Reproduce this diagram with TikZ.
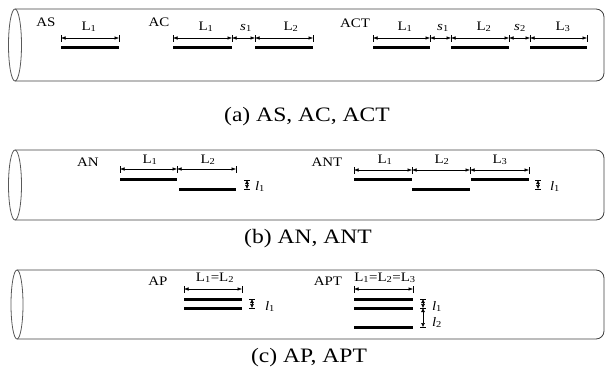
\documentclass[tikz,border=0pt]{standalone}
\usepackage{fontspec}
\setmainfont{Liberation Serif}[FakeStretch=1.15]
\usetikzlibrary{arrows.meta}
\tikzset{
  tube/.style={draw=black!75, line width=0.8pt, rounded corners=8pt},
  rim/.style={draw=black!65, line width=0.8pt},
  bar/.style={line width=3pt},
  dim/.style={line width=0.5pt, {Latex[length=4.5pt,width=3.5pt]}-{Latex[length=4.5pt,width=3.5pt]}},
  vdim/.style={line width=0.5pt, {Latex[length=4pt,width=4pt]}-{Latex[length=4pt,width=4pt]}},
  tickl/.style={line width=0.6pt},
  lbl/.style={font=\fontsize{13}{15}\selectfont, inner sep=0pt, anchor=base},
  captxt/.style={font=\fontsize{20.5}{24}\selectfont, inner sep=0pt, anchor=base}
}
\begin{document}
\begin{tikzpicture}[x=1pt,y=-1pt]
\useasboundingbox (0,0) rectangle (605,367);
% ---------- panel (a)
\draw[tube] (15,9) -- (604,9) -- (604,81) -- (15,81);
\draw[rim] (15,45) ellipse [x radius=6.5pt, y radius=36pt];
\node[lbl] (AS) at (46,26) {AS};
\node[lbl] (AC) at (159,26) {AC};
\node[lbl] (ACT) at (355,27) {ACT};
% AS
\coordinate (a1) at (61,38); \coordinate (a2) at (119,38);
\draw[dim] (a1) -- (a2);
\node[lbl] (asL1) at (89,30) {L\textsubscript{1}};
\draw[bar] (61,47) -- (119,47);
% AC
\coordinate (b1) at (173,38); \coordinate (b2) at (232,38);
\coordinate (b3) at (255,38); \coordinate (b4) at (313,38);
\draw[dim] (b1) -- (b2); \draw[dim] (b2) -- (b3); \draw[dim] (b3) -- (b4);
\node[lbl] (acL1) at (206,30) {L\textsubscript{1}};
\node[lbl] (acS1) at (246,30) {\textit{s}\textsubscript{1}};
\node[lbl] (acL2) at (291,30) {L\textsubscript{2}};
\draw[bar] (173,47) -- (232,47);
\draw[bar] (255,47) -- (313,47);
% ACT
\coordinate (c1) at (373,38); \coordinate (c2) at (430,38);
\coordinate (c3) at (451,38); \coordinate (c4) at (509,38);
\coordinate (c5) at (530,38); \coordinate (c6) at (587,38);
\draw[dim] (c1) -- (c2); \draw[dim] (c2) -- (c3); \draw[dim] (c3) -- (c4);
\draw[dim] (c4) -- (c5); \draw[dim] (c5) -- (c6);
\node[lbl] (actL1) at (405,30) {L\textsubscript{1}};
\node[lbl] (actS1) at (443,30) {\textit{s}\textsubscript{1}};
\node[lbl] (actL2) at (484,30) {L\textsubscript{2}};
\node[lbl] (actS2) at (520,30) {\textit{s}\textsubscript{2}};
\node[lbl] (actL3) at (563,30) {L\textsubscript{3}};
\draw[bar] (373,47) -- (430,47);
\draw[bar] (451,47) -- (509,47);
\draw[bar] (530,47) -- (587,47);
\foreach \c in {a1,a2,b1,b2,b3,b4,c1,c2,c3,c4,c5,c6}
  \draw[tickl] ([yshift=-3.5pt]\c) -- ([yshift=3.5pt]\c);
\node[captxt] (capA) at (307,121) {(a) AS, AC, ACT};
% ---------- panel (b)
\draw[tube] (15,150) -- (604,150) -- (604,220) -- (15,220);
\draw[rim] (15,185) ellipse [x radius=6.5pt, y radius=35pt];
\node[lbl] (AN) at (88,166) {AN};
\node[lbl] (ANT) at (327,166) {ANT};
% AN
\coordinate (d1) at (120,169); \coordinate (d2) at (177,169); \coordinate (d3) at (236,169);
\draw[dim] (d1) -- (d2); \draw[dim] (d2) -- (d3);
\node[lbl] (anL1) at (150,163) {L\textsubscript{1}};
\node[lbl] (anL2) at (208,163) {L\textsubscript{2}};
\draw[bar] (120,179) -- (177,179);
\draw[bar] (179,189) -- (236,189);
\coordinate (dv1) at (247,180); \coordinate (dv2) at (247,189);
\draw[vdim] (dv1) -- (dv2);
\node[lbl] (anl1) at (260,190) {\textit{l}\textsubscript{1}};
% ANT
\coordinate (e1) at (354,170); \coordinate (e2) at (412,170);
\coordinate (e3) at (470,170); \coordinate (e4) at (529,170);
\draw[dim] (e1) -- (e2); \draw[dim] (e2) -- (e3); \draw[dim] (e3) -- (e4);
\node[lbl] (antL1) at (385,163) {L\textsubscript{1}};
\node[lbl] (antL2) at (442,163) {L\textsubscript{2}};
\node[lbl] (antL3) at (500,163) {L\textsubscript{3}};
\draw[bar] (354,179) -- (412,179);
\draw[bar] (412,189) -- (470,189);
\draw[bar] (471,179) -- (529,179);
\coordinate (ev1) at (538,180); \coordinate (ev2) at (538,189);
\draw[vdim] (ev1) -- (ev2);
\node[lbl] (antl1) at (555,190) {\textit{l}\textsubscript{1}};
\foreach \c in {d1,d2,d3,e1,e2,e3,e4}
  \draw[tickl] ([yshift=-3.5pt]\c) -- ([yshift=3.5pt]\c);
\foreach \c in {dv1,dv2,ev1,ev2}
  \draw[tickl] ([xshift=-3pt]\c) -- ([xshift=3pt]\c);
\node[captxt] (capB) at (308,243) {(b) AN, ANT};
% ---------- panel (c)
\draw[tube] (17,270) -- (604,270) -- (604,339) -- (17,339);
\draw[rim] (17,304.5) ellipse [x radius=6pt, y radius=34.5pt];
\node[lbl] (AP) at (158,285) {AP};
\node[lbl] (APT) at (328,285) {APT};
% AP
\coordinate (f1) at (184,289); \coordinate (f2) at (242,289);
\draw[dim] (f1) -- (f2);
\node[lbl] (apL) at (215,281) {L\textsubscript{1}=L\textsubscript{2}};
\draw[bar] (184,299) -- (242,299);
\draw[bar] (184,308) -- (242,308);
\coordinate (fv1) at (252,299); \coordinate (fv2) at (252,308);
\draw[vdim] (fv1) -- (fv2);
\node[lbl] (apl1) at (270,310) {\textit{l}\textsubscript{1}};
% APT
\coordinate (g1) at (354,289); \coordinate (g2) at (413,289);
\draw[dim] (g1) -- (g2);
\node[lbl] (aptL) at (385,281) {L\textsubscript{1}=L\textsubscript{2}=L\textsubscript{3}};
\draw[bar] (354,299) -- (413,299);
\draw[bar] (354,308) -- (413,308);
\draw[bar] (354,327) -- (413,327);
\coordinate (gv1) at (423,299); \coordinate (gv2) at (423,308); \coordinate (gv3) at (423,327);
\draw[vdim] (gv1) -- (gv2); \draw[vdim] (gv2) -- (gv3);
\node[lbl] (aptl1) at (437,310) {\textit{l}\textsubscript{1}};
\node[lbl] (aptl2) at (437,326) {\textit{l}\textsubscript{2}};
\foreach \c in {f1,f2,g1,g2}
  \draw[tickl] ([yshift=-3.5pt]\c) -- ([yshift=3.5pt]\c);
\foreach \c in {fv1,fv2,gv1,gv2,gv3}
  \draw[tickl] ([xshift=-3pt]\c) -- ([xshift=3pt]\c);
\node[captxt] (capC) at (309,362) {(c) AP, APT};
\end{tikzpicture}
\end{document}
